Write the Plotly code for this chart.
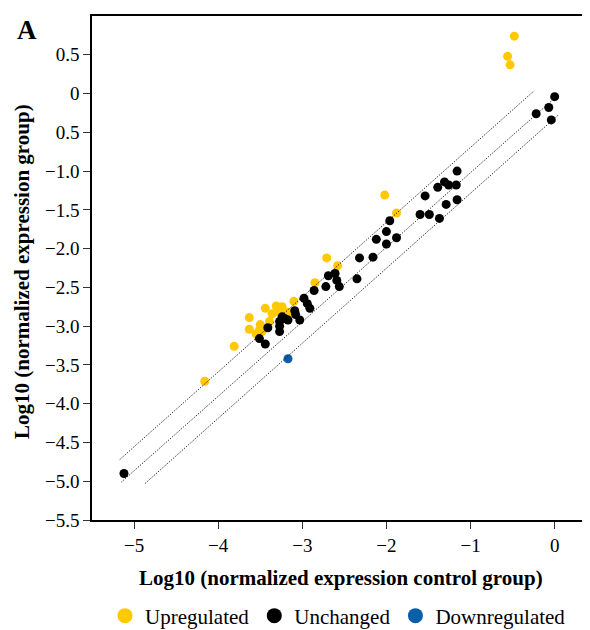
import plotly.graph_objects as go

# Upregulated genes
up_x = [-0.48, -0.56, -0.53, -2.02, -1.88, -2.58, -2.71, -2.85, -3.10, -3.31, -3.24, -3.44,
        -3.27, -3.17, -3.36, -3.63, -3.39, -3.50, -3.63, -3.51, -3.55, -3.48, -3.81, -4.16]
up_y = [0.74, 0.48, 0.37, -1.31, -1.54, -2.22, -2.12, -2.44, -2.68, -2.74, -2.75, -2.77,
        -2.82, -2.82, -2.84, -2.89, -2.94, -2.98, -3.04, -3.05, -3.10, -3.07, -3.26, -3.71]

# Unchanged genes
un_x = [0.00, -0.07, -0.22, -0.04, -1.16, -1.31, -1.26, -1.39, -1.17, -1.54, -1.29, -1.16,
        -1.60, -1.49, -1.37, -1.96, -2.00, -2.12, -2.00, -1.88, -2.32, -2.16, -2.35, -2.61,
        -2.59, -2.56, -2.69, -2.72, -2.86, -2.98, -2.94, -2.91, -3.09, -3.08, -3.17, -3.03,
        -3.24, -3.27, -3.27, -3.27, -3.41, -3.51, -3.44, -3.21, -5.12]
un_y = [-0.04, -0.18, -0.26, -0.34, -1.00, -1.14, -1.18, -1.21, -1.18, -1.32, -1.43, -1.37,
        -1.56, -1.56, -1.61, -1.64, -1.78, -1.88, -1.94, -1.86, -2.12, -2.11, -2.39, -2.32,
        -2.41, -2.49, -2.35, -2.49, -2.54, -2.64, -2.71, -2.77, -2.80, -2.85, -2.92, -2.92,
        -2.88, -2.94, -3.00, -3.07, -3.02, -3.16, -3.23, -2.90, -4.90]

# Downregulated genes
down_x = [-3.17]
down_y = [-3.42]

# Guide lines (upper, middle, lower) end points
upper_x = [-5.17, -0.25]
upper_y = [-4.72, 0.03]
mid_x = [-5.15, 0.04]
mid_y = [-5.01, -0.02]
lower_x = [-4.87, 0.05]
lower_y = [-5.03, -0.27]

x_ticks = [-5, -4, -3, -2, -1, 0]
x_ticktext = ["\u22125", "\u22124", "\u22123", "\u22122", "\u22121", "0"]
y_ticks = [0.5, 0, -0.5, -1.0, -1.5, -2.0, -2.5, -3.0, -3.5, -4.0, -4.5, -5.0, -5.5]
y_ticktext = ["0.5", "0", "0.5", "\u22121.0", "\u22121.5", "\u22122.0", "\u22122.5",
              "\u22123.0", "\u22123.5", "\u22124.0", "\u22124.5", "\u22125.0", "\u22125.5"]

FONT = "Liberation Serif"
YELLOW = "#FFC800"
BLUE = "#0A5FA8"
OFF = 8  # page body margin
W, H = 590 - OFF, 630 - OFF
ML, MR, MT = 92 - OFF, 0, 16 - OFF
MB = H - (520 - OFF)
PW, PH = W - ML - MR, H - MT - MB


def px_to_paper(px, py):
    # screen pixel -> paper coords
    return (px - OFF - ML) / PW, (H - MB - (py - OFF)) / PH


fig = go.Figure()
fig.add_trace(go.Scatter(x=up_x, y=up_y, mode="markers", name="Upregulated",
                         showlegend=False, marker=dict(color=YELLOW, size=9)))
fig.add_trace(go.Scatter(x=un_x, y=un_y, mode="markers", name="Unchanged",
                         showlegend=False, marker=dict(color="black", size=9)))
fig.add_trace(go.Scatter(x=down_x, y=down_y, mode="markers", name="Downregulated",
                         showlegend=False, marker=dict(color=BLUE, size=9)))
for lx, ly in [(upper_x, upper_y), (mid_x, mid_y), (lower_x, lower_y)]:
    fig.add_trace(go.Scatter(x=lx, y=ly, mode="lines", showlegend=False,
                             line=dict(color="black", width=1, dash="1px,1.5px")))
# legend entries with larger symbols
for name, col in [("Upregulated", YELLOW), ("Unchanged", "black"), ("Downregulated", BLUE)]:
    fig.add_trace(go.Scatter(x=[None], y=[None], mode="markers", name=name,
                             marker=dict(color=col, size=15)))

ax, ay = px_to_paper(27, 30)
tx, ty = px_to_paper(341, 578)
yx, yy = px_to_paper(22, 272)

fig.update_layout(
    width=W, height=H,
    margin=dict(l=ML, r=MR, t=MT, b=MB, autoexpand=False),
    plot_bgcolor="white", paper_bgcolor="white",
    font=dict(family=FONT, size=19, color="black"),
    showlegend=True,
    legend=dict(orientation="h", x=(338 - OFF) / W, xanchor="center", xref="container",
                y=(H - (616 - OFF)) / H, yanchor="middle", yref="container",
                font=dict(family=FONT, size=21), traceorder="normal",
                itemwidth=30, bgcolor="rgba(0,0,0,0)"),
    xaxis=dict(range=[-5.5, 0.42], tickvals=x_ticks, ticktext=x_ticktext,
               showgrid=False, zeroline=False, showline=True, linecolor="black",
               linewidth=1.5, mirror=True, ticks="outside", ticklen=7, tickwidth=1.2,
               tickcolor="#333", tickfont=dict(family=FONT, size=19), automargin=False),
    yaxis=dict(range=[-5.5, 1.0], tickvals=y_ticks, ticktext=y_ticktext,
               showgrid=False, zeroline=False, showline=True, linecolor="black",
               linewidth=1.5, ticks="outside", ticklen=7, tickwidth=1.2,
               tickcolor="#333", tickfont=dict(family=FONT, size=19), automargin=False),
    annotations=[
        dict(text="<b>A</b>", x=ax, y=ay, xref="paper", yref="paper", showarrow=False,
             xanchor="center", yanchor="middle", font=dict(family=FONT, size=27)),
        dict(text="<b>Log10 (normalized expression control group)</b>", x=tx, y=ty,
             xref="paper", yref="paper", showarrow=False, xanchor="center",
             yanchor="middle", font=dict(family=FONT, size=21)),
        dict(text="<b>Log10 (normalized expression group)</b>", x=yx, y=yy,
             xref="paper", yref="paper", showarrow=False, xanchor="center",
             yanchor="middle", textangle=-90, font=dict(family=FONT, size=21)),
    ],
)

fig.write_html("out.html")
